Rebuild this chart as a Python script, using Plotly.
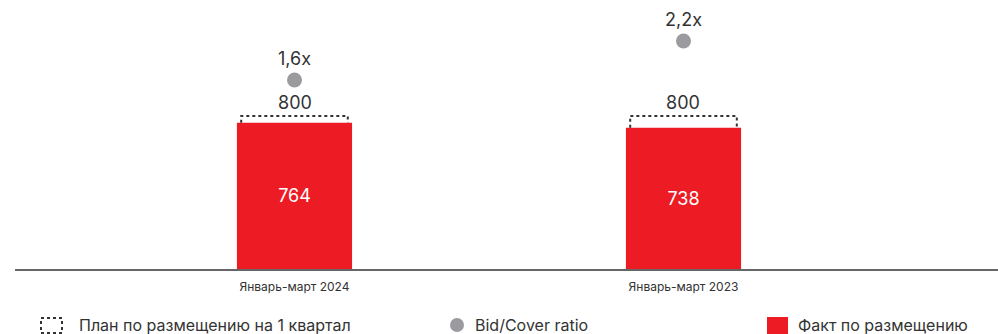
import plotly.graph_objects as go

categories = ["Январь-март 2024", "Январь-март 2023"]
fact_values = [764, 738]
plan_values = [800, 800]
bid_cover = [1.6, 2.2]
legend_labels = ["План по размещению на 1 квартал", "Bid/Cover ratio", "Факт по размещению"]

RED = "#ED1C24"
DARK = "#333333"
GRAY = "#9B9B9F"
FONT = "Inter"

W, H = 998, 334
ML, MR, MT, MB = 15, 0, 10, 65
PW, PH = W - ML - MR, H - MT - MB

xs = list(range(len(categories)))
bar_w = 0.296
half_plan = 0.137

fig = go.Figure()

fig.add_trace(go.Bar(
    x=xs, y=fact_values, width=bar_w, marker=dict(color=RED, line=dict(width=0)),
    text=[str(v) for v in fact_values], textposition="inside", insidetextanchor="middle",
    textfont=dict(color="white", size=18, family=FONT), constraintext="none",
    showlegend=False, hoverinfo="skip"))

for i, (f, p) in enumerate(zip(fact_values, plan_values)):
    fig.add_trace(go.Scatter(
        x=[xs[i] - half_plan, xs[i] - half_plan, xs[i] + half_plan, xs[i] + half_plan],
        y=[f, p, p, f], mode="lines",
        line=dict(color=DARK, width=2, dash="3px,3px"),
        showlegend=False, hoverinfo="skip"))
    fig.add_annotation(x=xs[i], y=p, text=str(p), showarrow=False, yanchor="bottom",
                       yshift=1, font=dict(size=18, color=DARK, family=FONT))

fig.add_trace(go.Scatter(
    x=xs, y=bid_cover, yaxis="y2", mode="markers+text",
    marker=dict(size=15, color=GRAY),
    text=[f"{v:.1f}".replace(".", ",") + "x" for v in bid_cover],
    textposition="top center", textfont=dict(size=18, color=DARK, family=FONT),
    showlegend=False, hoverinfo="skip"))

# manual legend (pixel -> paper helpers)
def px(x):
    return (x - ML) / PW

def py(y):
    return (H - MB - y) / PH

shapes = [
    dict(type="rect", xref="paper", yref="paper", x0=px(41), x1=px(62), y0=py(333), y1=py(318),
         line=dict(color=DARK, width=2, dash="3px,3px"), fillcolor="rgba(0,0,0,0)"),
    dict(type="circle", xref="paper", yref="paper", x0=px(450), x1=px(464), y0=py(332), y1=py(318),
         line=dict(width=0), fillcolor=GRAY),
    dict(type="rect", xref="paper", yref="paper", x0=px(767), x1=px(788), y0=py(334), y1=py(317),
         line=dict(width=0), fillcolor=RED),
]
for sx, lab in zip([77, 473, 796], legend_labels):
    fig.add_annotation(xref="paper", yref="paper", x=px(sx), y=py(325), text=lab,
                       showarrow=False, xanchor="left", yanchor="middle",
                       font=dict(size=16, color=DARK, family=FONT))

fig.update_layout(
    width=W, height=H, margin=dict(l=ML, r=MR, t=MT, b=MB),
    paper_bgcolor="white", plot_bgcolor="white",
    showlegend=False, shapes=shapes,
    font=dict(family=FONT, color=DARK),
    xaxis=dict(range=[-0.7185, 1.8085], tickvals=xs, ticktext=categories,
               showline=True, linecolor="#666666", linewidth=2, showgrid=False,
               zeroline=False, ticks="", tickfont=dict(size=12, color=DARK, family=FONT),
               ticklabelstandoff=6),
    yaxis=dict(range=[0, 1354], visible=False, showgrid=False, zeroline=False),
    yaxis2=dict(range=[-1.308, 2.677], overlaying="y", visible=False, showgrid=False, zeroline=False),
)

fig.write_html("out.html")
